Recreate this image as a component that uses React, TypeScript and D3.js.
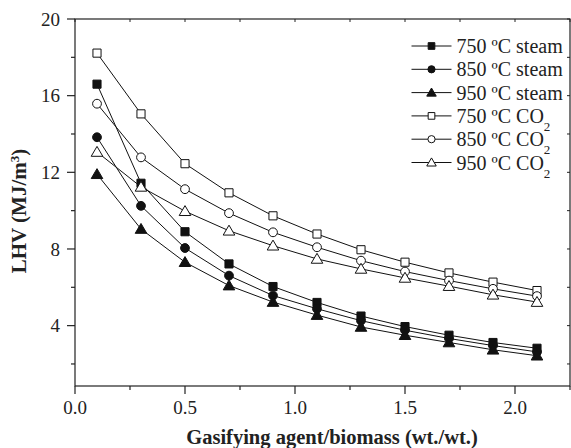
import React, { useEffect, useRef } from 'react';
import * as d3 from 'd3';

// Gasifying agent / biomass ratio (wt./wt.)
const ratios = [0.1, 0.3, 0.5, 0.7, 0.9, 1.1, 1.3, 1.5, 1.7, 1.9, 2.1];

// LHV (MJ/m3) per case
const steam750 = [16.6, 11.43, 8.9, 7.22, 6.04, 5.21, 4.5, 3.95, 3.5, 3.12, 2.82];
const steam850 = [13.83, 10.25, 8.05, 6.61, 5.57, 4.88, 4.26, 3.76, 3.33, 2.96, 2.63];
const steam950 = [11.9, 9.04, 7.31, 6.09, 5.23, 4.55, 3.93, 3.5, 3.12, 2.74, 2.43];
const co2750 = [18.22, 15.05, 12.45, 10.93, 9.73, 8.78, 7.96, 7.31, 6.75, 6.27, 5.83];
const co2850 = [15.58, 12.78, 11.12, 9.87, 8.87, 8.09, 7.39, 6.82, 6.35, 5.92, 5.54];
const co2950 = [13.06, 11.24, 9.97, 8.95, 8.17, 7.48, 6.96, 6.49, 6.06, 5.61, 5.23];

const seriesNames = ['750 ºC steam', '850 ºC steam', '950 ºC steam', '750 ºC CO', '850 ºC CO', '950 ºC CO'];
const seriesValues = [steam750, steam850, steam950, co2750, co2850, co2950];
const seriesShapes = ['square', 'circle', 'triangle', 'square', 'circle', 'triangle'];
const seriesFilled = [true, true, true, false, false, false];
const seriesSub = ['', '', '', '2', '2', '2'];

const xTicks = [0, 0.5, 1.0, 1.5, 2.0];
const yTicks = [4, 8, 12, 16, 20];

const FONT = '"Liberation Serif", "Times New Roman", serif';

export default function App() {
  const svgRef = useRef<SVGSVGElement>(null);

  useEffect(() => {
    const width = 571;
    const height = 448;
    const margin = { top: 19, right: 1, bottom: 62, left: 75 };
    const innerW = width - margin.left - margin.right;
    const innerH = height - margin.top - margin.bottom;

    const svg = d3.select(svgRef.current).attr('width', width).attr('height', height);
    svg.selectAll('*').remove();
    const g = svg.append('g').attr('transform', `translate(${margin.left},${margin.top})`);

    const x = d3.scaleLinear().domain([0, 2.25]).range([0, innerW]);
    const y = d3.scaleLinear().domain([0.85, 20]).range([innerH, 0]);

    // Frame
    g.append('rect').attr('width', innerW).attr('height', innerH)
      .attr('fill', 'none').attr('stroke', '#222').attr('stroke-width', 1.2);

    // Bottom axis (outward ticks), top ticks inward
    const xMinor = d3.range(0, 2.26, 0.25);
    const isMajorX = (d: number) => Math.abs(d * 2 - Math.round(d * 2)) < 1e-6;
    g.selectAll('.xt').data(xMinor).join('line')
      .attr('x1', d => x(d)).attr('x2', d => x(d))
      .attr('y1', innerH).attr('y2', d => innerH + (isMajorX(d) ? 8 : 4))
      .attr('stroke', '#222').attr('stroke-width', 1.2);
    g.selectAll('.xtt').data(xMinor).join('line')
      .attr('x1', d => x(d)).attr('x2', d => x(d))
      .attr('y1', 0).attr('y2', 3)
      .attr('stroke', '#222').attr('stroke-width', 1);
    g.selectAll('.xl').data(xTicks).join('text')
      .attr('x', d => x(d)).attr('y', innerH + 28)
      .attr('text-anchor', 'middle').attr('font-family', FONT).attr('font-size', 19).attr('fill', '#222')
      .text(d => d3.format('.1f')(d));

    // Left axis, right ticks inward
    const yMinor = d3.range(2, 20.1, 2);
    g.selectAll('.yt').data(yMinor).join('line')
      .attr('x1', d => (d % 4 === 0 ? -8 : -4)).attr('x2', 0)
      .attr('y1', d => y(d)).attr('y2', d => y(d))
      .attr('stroke', '#222').attr('stroke-width', 1.2);
    g.selectAll('.ytr').data(yMinor).join('line')
      .attr('x1', innerW - 3).attr('x2', innerW)
      .attr('y1', d => y(d)).attr('y2', d => y(d))
      .attr('stroke', '#222').attr('stroke-width', 1);
    g.selectAll('.yl').data(yTicks).join('text')
      .attr('x', -15).attr('y', d => y(d)).attr('dy', '0.35em')
      .attr('text-anchor', 'end').attr('font-family', FONT).attr('font-size', 19).attr('fill', '#222')
      .text(d => d);

    // Axis titles
    svg.append('text').attr('x', 332).attr('y', 444)
      .attr('text-anchor', 'middle').attr('font-family', FONT).attr('font-size', 20.5)
      .attr('font-weight', 'bold').attr('fill', '#222')
      .text('Gasifying agent/biomass (wt./wt.)');
    const yt = svg.append('text').attr('transform', 'translate(26,211) rotate(-90)')
      .attr('text-anchor', 'middle').attr('font-family', FONT).attr('font-size', 21)
      .attr('font-weight', 'bold').attr('fill', '#222');
    yt.append('tspan').text('LHV (MJ/m');
    yt.append('tspan').attr('baseline-shift', 'super').attr('font-size', 13).text('3');
    yt.append('tspan').text(')');

    const drawMarker = (sel: any, shape: string, filled: boolean, k = 1) => {
      const fill = filled ? '#111' : '#fff';
      if (shape === 'square') {
        sel.append('path').attr('d', d3.symbol(d3.symbolSquare, 66 * k * k)()).attr('fill', fill)
          .attr('stroke', '#111').attr('stroke-width', 1);
      } else if (shape === 'circle') {
        sel.append('circle').attr('r', 4.4 * k).attr('fill', fill).attr('stroke', '#111').attr('stroke-width', 1);
      } else {
        sel.append('path').attr('d', `M0,${-5.6 * k}L${5.8 * k},${4.3 * k}L${-5.8 * k},${4.3 * k}Z`).attr('fill', fill)
          .attr('stroke', '#111').attr('stroke-width', 1);
      }
    };

    const line = d3.line<number>().x((d, i) => x(ratios[i])).y(d => y(d));

    seriesValues.forEach(vals => {
      g.append('path').datum(vals).attr('d', line).attr('fill', 'none')
        .attr('stroke', '#111').attr('stroke-width', 1);
    });
    seriesValues.forEach((vals, s) => {
      vals.forEach((v, i) => {
        const m = g.append('g').attr('transform', `translate(${x(ratios[i])},${y(v)})`);
        drawMarker(m, seriesShapes[s], seriesFilled[s]);
      });
    });

    // Legend
    const rowH = 23.3;
    const lg = svg.append('g').attr('transform', 'translate(411.5,46)');
    seriesNames.forEach((name, s) => {
      const row = lg.append('g').attr('transform', `translate(0,${s * rowH})`);
      row.append('line').attr('x1', 0).attr('x2', 40).attr('y1', 0).attr('y2', 0)
        .attr('stroke', '#111').attr('stroke-width', 1);
      const m = row.append('g').attr('transform', 'translate(20,0)');
      drawMarker(m, seriesShapes[s], seriesFilled[s], 0.82);
      const t = row.append('text').attr('x', 45).attr('y', 0).attr('dy', '0.35em')
        .attr('font-family', FONT).attr('font-size', 20).attr('fill', '#222');
      t.append('tspan').text(name);
      if (seriesSub[s]) t.append('tspan').attr('baseline-shift', 'sub').attr('font-size', 13).text(seriesSub[s]);
    });
  }, []);

  return (
    <div style={{ position: 'absolute', left: 0, top: 0 }}>
      <svg ref={svgRef} style={{ display: 'block', background: '#fff' }} />
    </div>
  );
}
